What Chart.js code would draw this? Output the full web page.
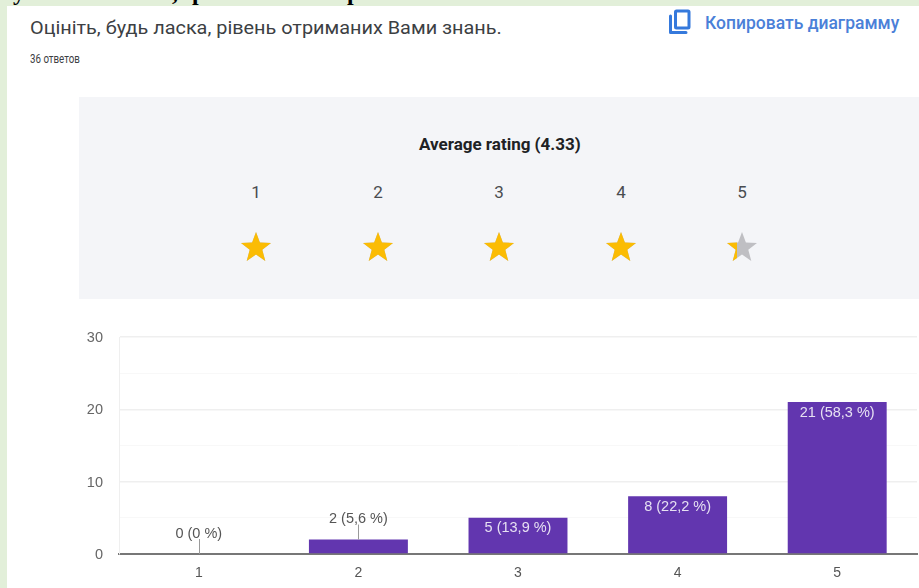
<!DOCTYPE html>
<html><head><meta charset="utf-8">
<script src="https://cdn.jsdelivr.net/npm/chart.js@4/dist/chart.umd.min.js"></script>
<style>
html,body{margin:0;padding:0;width:919px;height:588px;overflow:hidden;background:#e2efd9;font-family:Roboto,sans-serif}
.abs{position:absolute;white-space:nowrap}
#sheet{position:absolute;left:7px;top:6px;width:912px;height:582px;background:#fff}
#panel{position:absolute;left:79px;top:97px;width:840px;height:202px;background:#f4f5f8}
.frag{font:bold 24px "Liberation Serif",serif;color:#000;line-height:24px;top:-20px}
canvas{position:absolute;left:0;top:0}
</style></head><body>
<div class="abs frag" style="left:13px">у</div>
<div class="abs frag" style="left:172px">,</div>
<div class="abs frag" style="left:192px">р</div>
<div class="abs frag" style="left:347px">р</div>
<div id="sheet"></div><div id="panel"></div>
<div class="abs" style="left:30px;top:17px;font-size:18px;line-height:22px;color:#3c4043;transform:scaleX(1.103);transform-origin:0 0">Оцініть, будь ласка, рівень отриманих Вами знань.</div>
<div class="abs" style="left:30px;top:51px;font-size:12.5px;line-height:16px;color:#3c4043;transform:scaleX(.78);transform-origin:0 0">36 ответов</div>
<svg class="abs" style="left:668px;top:9px" width="24" height="27" viewBox="0 0 24 27">
<path d="M2.5 7v16.5H18" fill="none" stroke="#3579dc" stroke-width="3" stroke-linecap="round" stroke-linejoin="round"/>
<rect x="7.5" y="2" width="13.5" height="17" rx="1" fill="none" stroke="#3579dc" stroke-width="3"/></svg>
<div class="abs" style="left:705px;top:12px;font-size:17.5px;line-height:22px;font-weight:500;color:#4a80d8">Копировать диаграмму</div>
<div class="abs" style="left:419px;top:134px;font-size:17px;line-height:20px;font-weight:700;color:#202124">Average rating (4.33)</div>
<div id="rating"></div>
<canvas id="c" width="919" height="588"></canvas>
<script>
const categories = ["1","2","3","4","5"];
const counts = [0,2,5,8,21];
const percents = ["0 %","5,6 %","13,9 %","22,2 %","58,3 %"];
const yTickLabels = [0,10,20,30];
const averageRating = 4.33;
const starNumbers = [1,2,3,4,5];

// rating row
const starX = [256,378,499,621,742];
const starPath = "M15 0L18.9 10.5 30 11 21.3 17.8 24.3 29 15 22.4 5.7 29 8.7 17.8 0 11 11.1 10.5z";
const rating = document.getElementById('rating');
let html = '';
starNumbers.forEach((n,i)=>{
  const fill = Math.max(0,Math.min(1,averageRating-i));
  html += `<div class="abs" style="left:${starX[i]-20}px;width:40px;text-align:center;top:181px;font-size:17px;line-height:22px;color:#494c50">${n}</div>`;
  html += `<svg class="abs" style="left:${starX[i]-15}px;top:232px" width="30" height="29" viewBox="0 0 30 29">
    <path d="${starPath}" fill="#bfbfc3"/>
    <clipPath id="cp${i}"><rect width="${30*fill}" height="29"/></clipPath>
    <path d="${starPath}" fill="#fbbc04" clip-path="url(#cp${i})"/></svg>`;
});
rating.innerHTML = html;

const barLabels = {
  id:'barLabels',
  afterDatasetsDraw(chart){
    const {ctx,scales:{y}} = chart;
    const meta = chart.getDatasetMeta(0);
    ctx.save();
    ctx.font = '14.5px "Liberation Sans",Arial,sans-serif';
    ctx.textAlign='center'; ctx.textBaseline='middle';
    meta.data.forEach((bar,i)=>{
      const txt = `${counts[i]} (${percents[i]})`;
      const top = y.getPixelForValue(counts[i]);
      if(counts[i] >= 5){
        ctx.fillStyle='#e6e0f2';
        ctx.fillText(txt,bar.x,top+10.5);
      } else {
        ctx.strokeStyle='#9a9a9a'; ctx.lineWidth=1;
        ctx.beginPath(); ctx.moveTo(Math.round(bar.x)+.5,top); ctx.lineTo(Math.round(bar.x)+.5,top-15); ctx.stroke();
        ctx.fillStyle='#555';
        ctx.fillText(txt,bar.x,top-20.5);
      }
    });
    ctx.restore();
  }
};

new Chart(document.getElementById('c'),{
  type:'bar',
  data:{labels:categories,datasets:[{data:counts,backgroundColor:'#6236af',borderWidth:0,
    categoryPercentage:0.62,barPercentage:1}]},
  plugins:[barLabels],
  options:{
    responsive:false,animation:false,
    layout:{padding:{top:337,right:2,left:0,bottom:0}},
    plugins:{legend:{display:false},tooltip:{enabled:false}},
    scales:{
      x:{
        grid:{display:true,drawTicks:false,color:c=>c.index===categories.length?'#efefef':'rgba(0,0,0,0)'},
        border:{color:'#777',width:2},
        ticks:{color:'#555',font:{size:14,family:'"Liberation Sans",Arial,sans-serif'},padding:10.5},
        afterFit(s){s.height=34;}
      },
      y:{
        min:0,max:30,
        afterBuildTicks(s){const t=[];for(let v=s.min;v<=s.max;v+=5)t.push({value:v});s.ticks=t;},
        grid:{drawTicks:false,lineWidth:c=>yTickLabels.includes(c.tick.value)?1.5:1,
          color:c=>yTickLabels.includes(c.tick.value)?'#efefef':'#f8f8f8'},
        border:{color:'#efefef',width:1},
        ticks:{color:'#666',font:{size:14.5,family:'"Liberation Sans",Arial,sans-serif'},padding:16,labelOffset:1,
          autoSkip:false,callback:v=>yTickLabels.includes(v)?String(v):''},
        afterFit(s){s.width=119;}
      }
    }
  }
});
</script>
</body></html>
